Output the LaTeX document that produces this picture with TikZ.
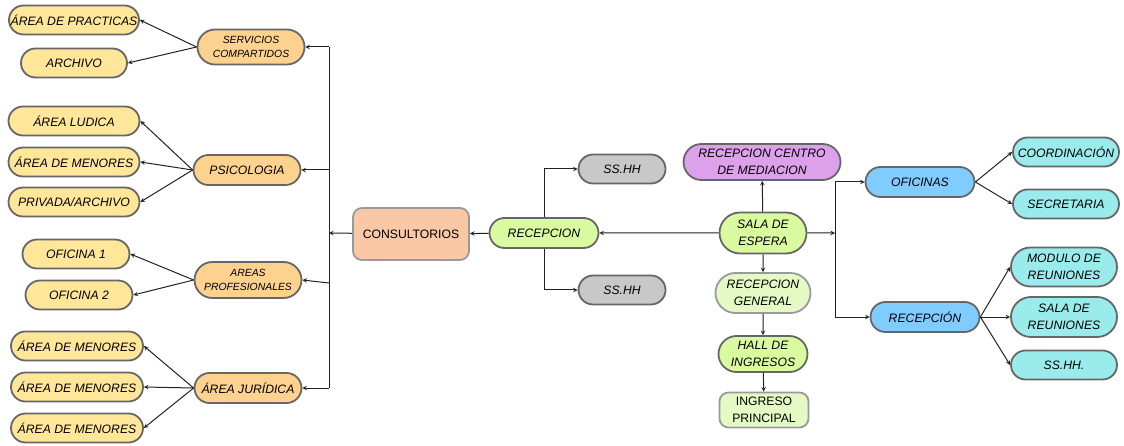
\documentclass[tikz,border=0pt]{standalone}
\usepackage{fontspec}
\setmainfont{Liberation Sans}
\usepackage{tikz}
\usetikzlibrary{shapes,arrows}
\usetikzlibrary{calc}

\definecolor{hoja}{HTML}{FFE699}
\definecolor{rama}{HTML}{FDD28E}
\definecolor{salmon}{HTML}{FBC8A6}
\definecolor{verde}{HTML}{D9FA9F}
\definecolor{verdeclaro}{HTML}{E5F9C4}
\definecolor{gris}{HTML}{C8C8C8}
\definecolor{lila}{HTML}{DDA0EB}
\definecolor{azul}{HTML}{80CBFF}
\definecolor{celeste}{HTML}{9AEBEC}
\definecolor{borde}{HTML}{666666}
\definecolor{bordeclaro}{HTML}{9A9A9A}
\definecolor{linea}{HTML}{222222}

\begin{document}
\begin{tikzpicture}[>=stealth, x=1pt, y=-1pt,
    caja/.style={draw=borde, line width=1.8pt, rounded rectangle, minimum height=29pt,
        inner sep=1pt, align=center, font=\fontsize{12.2}{16.5}\selectfont\itshape},
    chica/.style={font=\fontsize{10.4}{14.5}\selectfont\itshape},
    flecha/.style={draw=linea, line width=1pt, ->},
    linea/.style={draw=linea, line width=1pt}]
        \useasboundingbox (0,0) rectangle (1124,446);

        % lado izquierdo
        \coordinate (practicas) at (74,20);
        \coordinate (archivo) at (74,63);
        \coordinate (ludica) at (74,121);
        \coordinate (menores) at (74,162);
        \coordinate (privada) at (74,202);
        \coordinate (oficina1) at (76,254);
        \coordinate (oficina2) at (79,295);
        \coordinate (menores_a) at (77,346);
        \coordinate (menores_b) at (77,387);
        \coordinate (menores_c) at (77,428);
        \coordinate (servicios) at (251,47);
        \coordinate (psicologia) at (247,170);
        \coordinate (areas) at (248,280);
        \coordinate (juridica) at (248,388);
        \coordinate (consultorios) at (411,234);

        % centro y lado derecho
        \coordinate (recepcion) at (544,233);
        \coordinate (sshh_a) at (622,169);
        \coordinate (sshh_b) at (622,290);
        \coordinate (mediacion) at (762,162);
        \coordinate (sala) at (763,233);
        \coordinate (general) at (763,293);
        \coordinate (hall) at (763,354);
        \coordinate (ingreso) at (764,410);
        \coordinate (oficinas) at (920,182);
        \coordinate (recepcion_r) at (925,317);
        \coordinate (coordinacion) at (1066,152);
        \coordinate (secretaria) at (1066,204);
        \coordinate (modulo) at (1064,267);
        \coordinate (sala_r) at (1064,317);
        \coordinate (sshh_c) at (1064,365);

        \node[caja, fill=hoja, minimum width=132pt] (Practicas) at (practicas) {ÁREA DE PRACTICAS};
        \node[caja, fill=hoja, minimum width=108pt] (Archivo) at (archivo) {ARCHIVO};
        \node[caja, fill=hoja, minimum width=133pt] (Ludica) at (ludica) {ÁREA LUDICA};
        \node[caja, fill=hoja, minimum width=133pt] (Menores) at (menores) {ÁREA DE MENORES};
        \node[caja, fill=hoja, minimum width=133pt] (Privada) at (privada) {PRIVADA/ARCHIVO};
        \node[caja, fill=hoja, minimum width=109pt] (Oficina1) at (oficina1) {OFICINA 1};
        \node[caja, fill=hoja, minimum width=109pt] (Oficina2) at (oficina2) {OFICINA 2};
        \node[caja, fill=hoja, minimum width=134pt] (Menores_a) at (menores_a) {ÁREA DE MENORES};
        \node[caja, fill=hoja, minimum width=134pt] (Menores_b) at (menores_b) {ÁREA DE MENORES};
        \node[caja, fill=hoja, minimum width=134pt] (Menores_c) at (menores_c) {ÁREA DE MENORES};

        \node[caja, chica, fill=rama, minimum width=109pt, minimum height=35pt] (Servicios) at (servicios) {SERVICIOS\\COMPARTIDOS};
        \node[caja, fill=rama, minimum width=109pt, minimum height=30pt] (Psicologia) at (psicologia) {PSICOLOGIA};
        \node[caja, chica, fill=rama, minimum width=109pt, minimum height=36pt] (Areas) at (areas) {AREAS\\PROFESIONALES};
        \node[caja, fill=rama, minimum width=109pt, minimum height=30pt] (Juridica) at (juridica) {ÁREA JURÍDICA};
        \node[draw=bordeclaro, line width=1.8pt, fill=salmon, rounded corners=9pt, minimum width=116pt, minimum height=52pt,
            font=\fontsize{12.2}{16.5}\selectfont] (Consultorios) at (consultorios) {CONSULTORIOS};

        \node[caja, fill=verde, minimum width=111pt, minimum height=30pt] (Recepcion) at (recepcion) {RECEPCION};
        \node[caja, fill=gris, minimum width=89pt] (SSHH_a) at (sshh_a) {SS.HH};
        \node[caja, fill=gris, minimum width=89pt] (SSHH_b) at (sshh_b) {SS.HH};
        \node[caja, fill=lila, minimum width=159pt, minimum height=36pt] (Mediacion) at (mediacion) {RECEPCION CENTRO\\DE MEDIACION};
        \node[caja, fill=verde, minimum width=89pt, minimum height=41pt] (Sala) at (sala) {SALA DE\\ESPERA};
        \node[caja, draw=bordeclaro, fill=verdeclaro, minimum width=97pt, minimum height=40pt] (General) at (general) {RECEPCION\\GENERAL};
        \node[caja, fill=verde, minimum width=91pt, minimum height=36pt] (Hall) at (hall) {HALL DE\\INGRESOS};
        \node[draw=bordeclaro, line width=1.8pt, fill=verdeclaro, rounded corners=9pt, minimum width=89pt, minimum height=35pt,
            inner sep=1pt, align=center, font=\fontsize{12.2}{16.5}\selectfont] (Ingreso) at (ingreso) {INGRESO\\PRINCIPAL};

        \node[caja, fill=azul, minimum width=111pt, minimum height=30pt] (Oficinas) at (oficinas) {OFICINAS};
        \node[caja, fill=azul, minimum width=111pt, minimum height=30pt] (Recepcion_r) at (recepcion_r) {RECEPCIÓN};
        \node[caja, fill=celeste, minimum width=108pt] (Coordinacion) at (coordinacion) {COORDINACIÓN};
        \node[caja, fill=celeste, minimum width=108pt] (Secretaria) at (secretaria) {SECRETARIA};
        \node[caja, fill=celeste, minimum width=108pt, minimum height=39pt] (Modulo) at (modulo) {MODULO DE\\REUNIONES};
        \node[caja, fill=celeste, minimum width=108pt, minimum height=40pt] (Sala_r) at (sala_r) {SALA DE\\REUNIONES};
        \node[caja, fill=celeste, minimum width=108pt] (SSHH_c) at (sshh_c) {SS.HH.};

        % ramas de consultorios
        \coordinate (j_consultorios) at (329,233);
        \coordinate (j_servicios) at (329,47);
        \coordinate (j_psicologia) at (329,170);
        \coordinate (j_areas) at (329,283);
        \coordinate (j_juridica) at (329,388);
        \path[linea] (j_servicios) -- (j_juridica);
        \path[flecha] (Consultorios) -- (j_consultorios);
        \path[flecha] (j_servicios) -- (Servicios.east);
        \path[flecha] (j_psicologia) -- (Psicologia.east);
        \path[flecha] (j_areas) -- (Areas.east);
        \path[flecha] (j_juridica) -- (Juridica.east);

        \path[flecha] (Servicios.west) -- (Practicas.east);
        \path[flecha] (Servicios.west) -- (Archivo.east);
        \path[flecha] (Psicologia.west) -- (Ludica.east);
        \path[flecha] (Psicologia.west) -- (Menores.east);
        \path[flecha] (Psicologia.west) -- (Privada.east);
        \path[flecha] (Areas.west) -- (Oficina1.east);
        \path[flecha] (Areas.west) -- (Oficina2.east);
        \path[flecha] (Juridica.west) -- (Menores_a.east);
        \path[flecha] (Juridica.west) -- (Menores_b.east);
        \path[flecha] (Juridica.west) -- (Menores_c.east);

        % recepcion y sala de espera
        \path[flecha] (Recepcion) -- (Consultorios);
        \path[flecha] (Recepcion.north) |- (SSHH_a);
        \path[flecha] (Recepcion.south) |- (SSHH_b);
        \path[flecha] (Sala) -- (Recepcion);
        \path[flecha] (Sala) -- (Mediacion);
        \path[flecha] (Sala) -- (General);
        \path[flecha] (General) -- (Hall);
        \path[flecha] (Hall) -- (Ingreso);

        % lado derecho
        \coordinate (j_derecha) at (835,233);
        \path[flecha] (Sala) -- (j_derecha);
        \path[linea] (j_derecha) -- ++(0,-51);
        \path[flecha] (j_derecha) |- (Oficinas);
        \path[flecha] (j_derecha) |- (Recepcion_r);
        \path[flecha] (Oficinas.east) -- (Coordinacion.west);
        \path[flecha] (Oficinas.east) -- (Secretaria.west);
        \path[flecha] (Recepcion_r.east) -- (Modulo.west);
        \path[flecha] (Recepcion_r.east) -- (Sala_r.west);
        \path[flecha] (Recepcion_r.east) -- (SSHH_c.west);
    \end{tikzpicture}
\end{document}
